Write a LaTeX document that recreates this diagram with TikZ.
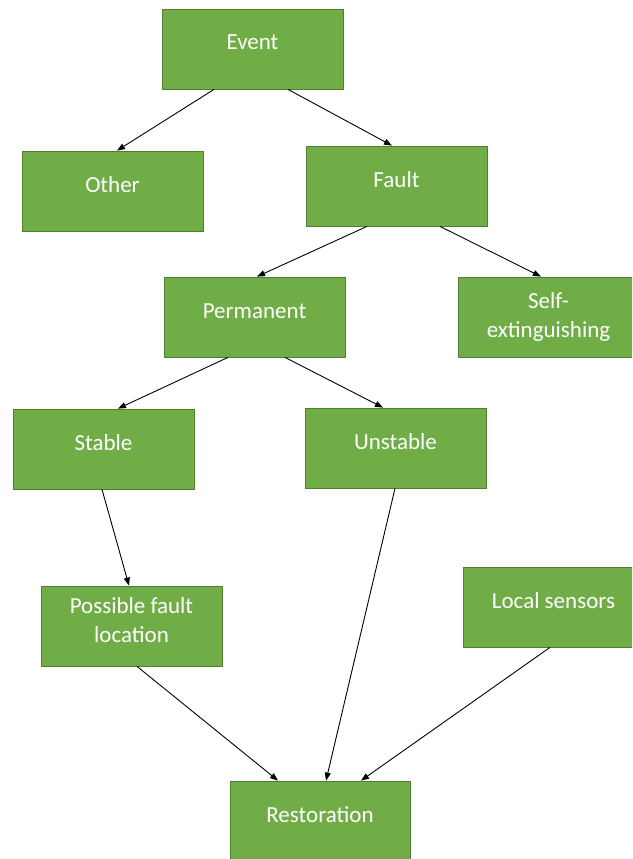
\documentclass[tikz,border=0pt]{standalone}
\usepackage{fontspec}
\setmainfont{Carlito}
\usetikzlibrary{arrows.meta}
\definecolor{boxfill}{HTML}{70AD47}
\definecolor{boxline}{HTML}{507E32}
\begin{document}
\begin{tikzpicture}[x=1pt,y=-1pt,
  box/.style={rectangle, fill=boxfill, draw=boxline, line width=0.8pt,
    minimum width=181pt, minimum height=80pt, inner sep=0pt,
    text=white, font=\fontsize{23}{29}\selectfont, align=center,
    text height=16pt, text depth=14pt},
  twoline/.style={text height=44pt, text depth=12pt},
  arr/.style={-{Triangle[length=8pt,width=6pt]}, line width=0.9pt, black}]
\useasboundingbox (0,0) rectangle (632,859);
\clip (0,0) rectangle (632,859);

% fault classification tree
\node[box] (event)    at (252.5,49)  {Event};
\node[box] (other)    at (112.5,191) {Other};
\node[box] (fault)    at (396.5,186) {Fault};
\node[box] (perm)     at (254.5,317) {Permanent};
\node[box, text height=48pt, text depth=8pt] (self) at (548.5,317) {Self-\\extinguishing};
\node[box] (stable)   at (103.5,449) {Stable};
\node[box] (unstable) at (395.5,448) {Unstable};
\node[box, twoline] (possible) at (131.5,626) {Possible fault\\location};
\node[box] (local)    at (553.5,607) {Local sensors};
\node[box, minimum width=180pt] (rest) at (320,821) {Restoration};

% connectors
\draw[arr] ([xshift=-38.5pt]event.south) -- ([xshift=4.5pt]other.north);
\draw[arr] ([xshift=35.5pt]event.south) -- ([xshift=-4.5pt]fault.north);
\draw[arr] ([xshift=-29.5pt]fault.south) -- ([xshift=2.5pt]perm.north);
\draw[arr] ([xshift=43.5pt]fault.south) -- ([xshift=-7.5pt]self.north);
\draw[arr] ([xshift=-26.5pt]perm.south) -- ([xshift=14.5pt]stable.north);
\draw[arr] ([xshift=30.5pt]perm.south) -- ([xshift=-12.5pt]unstable.north);
\draw[arr] ([xshift=-1.5pt]stable.south) -- ([xshift=-2.5pt]possible.north);
\draw[arr] ([xshift=-0.5pt]unstable.south) -- ([xshift=6pt]rest.north);
\draw[arr] ([xshift=5.5pt]possible.south) -- ([xshift=-42pt]rest.north);
\draw[arr] ([xshift=-3.5pt]local.south) -- ([xshift=41pt]rest.north);
\end{tikzpicture}
\end{document}
